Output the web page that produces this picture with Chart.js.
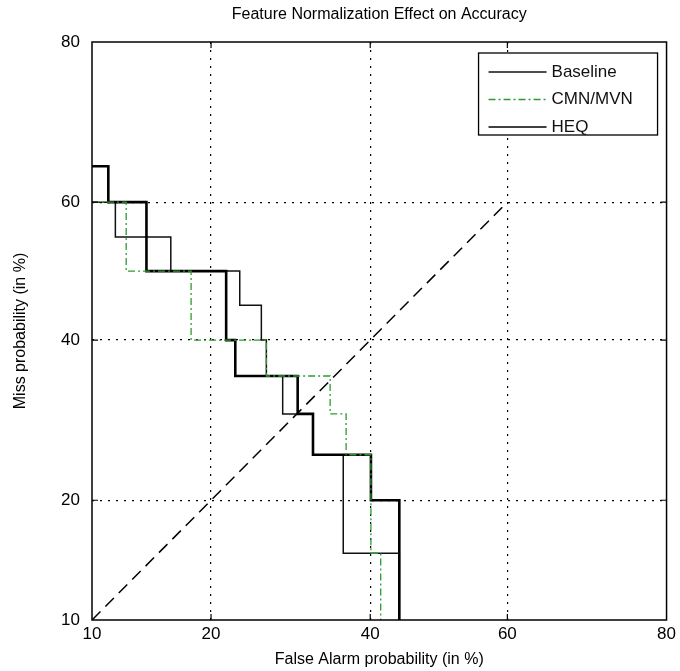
<!DOCTYPE html>
<html>
<head>
<meta charset="utf-8">
<script src="https://cdn.jsdelivr.net/npm/chart.js@4.4.1/dist/chart.umd.min.js"></script>
<style>
  html, body { margin: 0; padding: 0; background: #fff; }
  #wrap { width: 680px; height: 671px; }
</style>
</head>
<body>
<div id="wrap"><canvas id="detChart"></canvas></div>
<script>
// DET axes: ticks in %, drawn on a normal-deviate scale
const tickPct = [10, 20, 40, 60, 80];
const tickLabels = ['10', '20', '40', '60', '80'];

// operating points (false alarm %, miss %), joined as steps
const baselineFA   = [10, 11.6, 16.1, 23.1, 25.6, 26.2, 28.2, 32.1, 36.2, 44.2];
const baselineMiss = [60, 55, 50, 45, 40, 35, 30, 25, 15, 10];

const cmnFA   = [10, 12.4, 18.0, 26.2, 34.4, 36.6, 40.1, 41.5];
const cmnMiss = [60, 50, 40, 35, 30, 25, 15, 10];

const heqFA   = [10, 11.1, 14.0, 21.6, 22.6, 30.1, 32.1, 40.1, 44.2];
const heqMiss = [65, 60, 50, 40, 35, 30, 25, 20, 10];

// equal error line
const chanceFA   = [10, 60];
const chanceMiss = [10, 60];

const legendOrder = ['Baseline', 'CMN/MVN', 'HEQ'];
const FONT = "'Liberation Sans', Arial, Helvetica, sans-serif";

// inverse normal cdf (Acklam)
function probit(p) {
  const a = [-39.69683028665376, 220.9460984245205, -275.9285104469687, 138.3577518672690, -30.66479806614716, 2.506628277459239];
  const b = [-54.47609879822406, 161.5858368580409, -155.6989798598866, 66.80131188771972, -13.28068155288572];
  const c = [-0.007784894002430293, -0.3223964580411365, -2.400758277161838, -2.549732539343734, 4.374664141464968, 2.938163982698783];
  const d = [0.007784695709041462, 0.3224671290700398, 2.445134137142996, 3.754408661907416];
  const plow = 0.02425;
  let q, r;
  if (p < plow) {
    q = Math.sqrt(-2 * Math.log(p));
    return (((((c[0]*q+c[1])*q+c[2])*q+c[3])*q+c[4])*q+c[5]) / ((((d[0]*q+d[1])*q+d[2])*q+d[3])*q+1);
  }
  if (p > 1 - plow) {
    q = Math.sqrt(-2 * Math.log(1 - p));
    return -(((((c[0]*q+c[1])*q+c[2])*q+c[3])*q+c[4])*q+c[5]) / ((((d[0]*q+d[1])*q+d[2])*q+d[3])*q+1);
  }
  q = p - 0.5; r = q * q;
  return (((((a[0]*r+a[1])*r+a[2])*r+a[3])*r+a[4])*r+a[5])*q / (((((b[0]*r+b[1])*r+b[2])*r+b[3])*r+b[4])*r+1);
}
const dev = pct => probit(pct / 100);
const toPoints = (fa, miss) => fa.map((v, i) => ({ x: dev(v), y: dev(miss[i]) }));

const hideEnds = ctx => (ctx.index === 0 || ctx.index === tickPct.length - 1) ? 'rgba(0,0,0,0)' : '#000';

// frame, inward ticks and the boxed legend
const framePlugin = {
  id: 'frame',
  afterDraw(chart) {
    const c = chart.ctx, a = chart.chartArea;
    const xs = chart.scales.x, ys = chart.scales.y;
    c.save();
    c.strokeStyle = '#000';
    c.lineWidth = 1.5;
    c.setLineDash([]);
    c.strokeRect(a.left, a.top, a.right - a.left, a.bottom - a.top);
    c.lineWidth = 1.2;
    tickPct.slice(1, -1).forEach(v => {
      const px = xs.getPixelForValue(dev(v));
      const py = ys.getPixelForValue(dev(v));
      c.beginPath();
      c.moveTo(px, a.bottom); c.lineTo(px, a.bottom - 6);
      c.moveTo(px, a.top); c.lineTo(px, a.top + 6);
      c.moveTo(a.left, py); c.lineTo(a.left + 6, py);
      c.moveTo(a.right, py); c.lineTo(a.right - 6, py);
      c.stroke();
    });

    // legend box
    const x0 = a.right - 188, y0 = a.top + 11, w = 179, h = 82;
    c.fillStyle = '#fff';
    c.fillRect(x0, y0, w, h);
    c.lineWidth = 1.3;
    c.strokeRect(x0, y0, w, h);
    c.font = '17px ' + FONT;
    c.textBaseline = 'middle';
    legendOrder.forEach((name, i) => {
      const ds = chart.data.datasets.find(d => d.label === name);
      const y = y0 + 19 + i * 27.5;
      c.strokeStyle = ds.borderColor;
      c.lineWidth = Math.min(ds.borderWidth, 1.6);
      c.setLineDash(ds.borderDash || []);
      c.beginPath();
      c.moveTo(x0 + 10, y); c.lineTo(x0 + 68, y);
      c.stroke();
      c.setLineDash([]);
      c.fillStyle = '#111';
      c.fillText(name, x0 + 73, y);
    });
    c.restore();
  }
};

const lineBase = { showLine: true, fill: false, pointRadius: 0, pointHoverRadius: 0, stepped: true };

new Chart(document.getElementById('detChart'), {
  type: 'scatter',
  data: {
    datasets: [
      Object.assign({ label: 'CMN/MVN', data: toPoints(cmnFA, cmnMiss),
        borderColor: '#2f9a2f', borderWidth: 1.3, borderDash: [7, 3, 2, 3], order: 0 }, lineBase),
      Object.assign({ label: 'HEQ', data: toPoints(heqFA, heqMiss),
        borderColor: '#000', borderWidth: 2.6, order: 1 }, lineBase),
      Object.assign({ label: 'Baseline', data: toPoints(baselineFA, baselineMiss),
        borderColor: '#111', borderWidth: 1.5, order: 2 }, lineBase),
      Object.assign({ label: 'chance', data: toPoints(chanceFA, chanceMiss),
        borderColor: '#000', borderWidth: 1.5, borderDash: [12, 7], order: 3 }, lineBase, { stepped: false })
    ]
  },
  options: {
    responsive: true,
    maintainAspectRatio: false,
    animation: false,
    layout: { padding: { left: 0, right: 10, top: 0, bottom: 0 } },
    plugins: {
      legend: { display: false },
      tooltip: { enabled: false },
      title: {
        display: true,
        fullSize: false,
        text: 'Feature Normalization Effect on Accuracy',
        color: '#000',
        font: { family: FONT, size: 16, weight: 'normal' },
        padding: { top: 5, bottom: 17.8 }
      }
    },
    scales: {
      x: {
        type: 'linear',
        min: dev(10),
        max: dev(80),
        afterBuildTicks: s => { s.ticks = tickPct.map(v => ({ value: dev(v) })); },
        afterFit: s => { s.height = 51; },
        ticks: {
          autoSkip: false, maxRotation: 0, padding: 4, color: '#000',
          font: { family: FONT, size: 17 },
          callback: (v, i) => tickLabels[i]
        },
        grid: { color: hideEnds, lineWidth: 1.2, drawTicks: false },
        border: { display: false, dash: [2, 6] },
        title: {
          display: true, text: 'False Alarm probability (in %)', color: '#000',
          font: { family: FONT, size: 16 }, padding: { top: 2, bottom: 2 }
        }
      },
      y: {
        type: 'linear',
        min: dev(10),
        max: dev(80),
        afterBuildTicks: s => { s.ticks = tickPct.map(v => ({ value: dev(v) })); },
        afterFit: s => { s.width = 92; },
        ticks: {
          autoSkip: false, padding: 12, color: '#000',
          font: { family: FONT, size: 17 },
          callback: (v, i) => tickLabels[i]
        },
        grid: { color: hideEnds, lineWidth: 1.2, drawTicks: false },
        border: { display: false, dash: [2, 6] },
        title: {
          display: true, text: 'Miss probability (in %)', color: '#000',
          font: { family: FONT, size: 16 }, padding: { top: 11, bottom: 11 }
        }
      }
    }
  },
  plugins: [framePlugin]
});
</script>
</body>
</html>
